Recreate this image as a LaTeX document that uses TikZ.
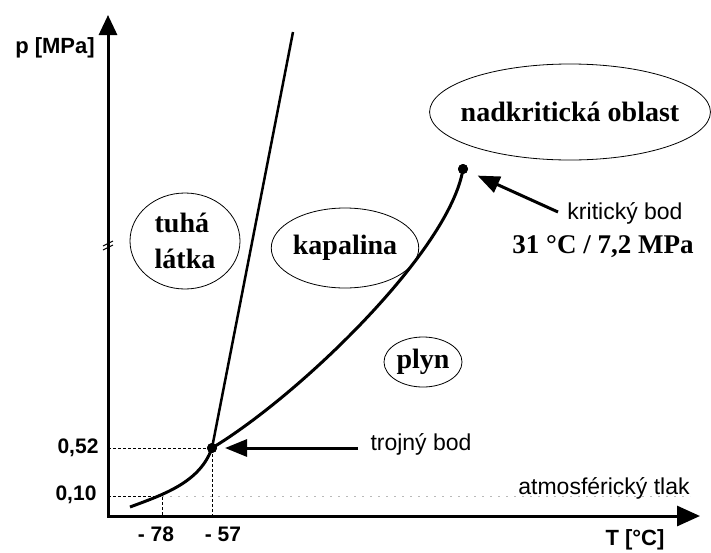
\documentclass[tikz,border=0pt]{standalone}
\usepackage{fontspec}
\setmainfont{Liberation Serif}
\setsansfont{Liberation Sans}
\usetikzlibrary{arrows.meta,shapes.geometric}

\tikzset{
	phase/.style={ellipse, draw, line width=0.8pt, inner sep=0pt, font=\bfseries\fontsize{28}{36}\selectfont},
	axislbl/.style={font=\sffamily\bfseries\fontsize{22}{24}\selectfont},
	ticklbl/.style={font=\sffamily\bfseries\fontsize{21}{24}\selectfont},
	note/.style={font=\sffamily\fontsize{23}{26}\selectfont},
	axis/.style={line width=3pt, line join=miter},
	curve/.style={line width=3pt},
	guide/.style={line width=0.9pt, dash pattern=on 3pt off 2pt},
	pointer/.style={line width=3pt, -{Triangle[length=22pt,width=17pt]}},
	bod/.style={circle, fill, inner sep=0pt, minimum size=10pt},
}

\begin{document}
\begin{tikzpicture}[x=1pt, y=-1pt]
		\useasboundingbox (0,0) rectangle (711,552);

		\coordinate (O) at (108,516);
		\coordinate (Ytop) at (108,15);
		\coordinate (Xend) at (700,516);
		\coordinate (Pt52) at (108,448);
		\coordinate (Pt10) at (108,496);
		\coordinate (Tm78) at (162,516);
		\coordinate (Tm57) at (212,516);
		\coordinate (Atm) at (162,496);
		\coordinate (AtmEnd) at (690,496);
		\coordinate (mTop) at (293,32);
		\coordinate (sStart) at (130,507);
		\coordinate (tpTail) at (358,448);
		\coordinate (kpTail) at (558,212);

		\node[bod] (tp) at (212,448) {};
		\node[bod] (kp) at (463,169) {};

		\draw[guide] (Pt52) -- (tp.center) -- (Tm57);
		\draw[guide] (Pt10) -- (Atm) -- (Tm78);
		\draw[gray!55, line width=0.8pt, dash pattern=on 2pt off 6pt] (Atm) -- (AtmEnd);

		\draw[axis, {Triangle[length=20pt,width=18pt]}-{Triangle[length=23pt,width=20pt]}] (Ytop) -- (O) -- (Xend);
		\draw[line width=1pt] (103,246) -- (113,241) (103,250) -- (113,245);

		\draw[line width=2.5pt] (tp.center) -- (mTop);
		\draw[curve] (sStart) .. controls (165,494) and (200,482) .. (tp.center);
		\draw[curve] (tp.center) .. controls (300,395) and (450,250) .. (kp.center);

		\node[bod] at (tp) {};
		\node[bod] at (kp) {};

		\draw[pointer, shorten >=13pt] (tpTail) -- (tp.center);
		\draw[pointer, shorten >=16pt] (kpTail) -- (kp.center);

		\node[phase, minimum width=110pt, minimum height=96pt, align=left] (solid) at (185,241) {tuhá\\látka};
		\node[phase, minimum width=144pt, minimum height=80pt] (liquid) at (345,248) {kapalina};
		\node[phase, minimum width=78pt, minimum height=50pt] (gas) at (423,362) {plyn};
		\node[phase, minimum width=280pt, minimum height=96pt, inner xsep=-10pt] (super) at (570,112) {nadkritická oblast};

		\node[axislbl] (pLbl) at (55,48) {p [MPa]};
		\node[axislbl] (TLbl) at (635,540) {T [°C]};
		\node[ticklbl] (p52) at (78,448) {0,52};
		\node[ticklbl] (p10) at (76,495) {0,10};
		\node[ticklbl] (t78) at (156,534) {- 78};
		\node[ticklbl] (t57) at (223,534) {- 57};

		\node[note] (tpLbl) at (421,444) {trojný bod};
		\node[note] (atmLbl) at (604,488) {atmosférický tlak};
		\node[note] (kpLbl) at (625,213) {kritický bod};
		\node[font=\bfseries\fontsize{27}{30}\selectfont] (kpVal) at (603,247) {31 °C / 7,2 MPa};
	\end{tikzpicture}
\end{document}
